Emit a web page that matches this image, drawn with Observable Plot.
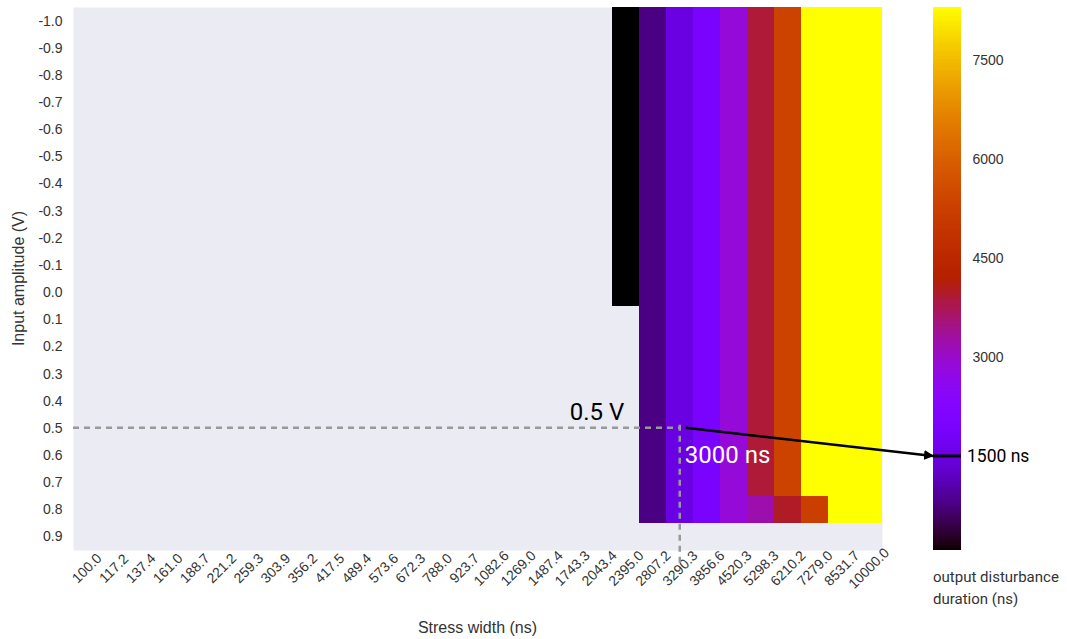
<!DOCTYPE html>
<html><head><meta charset="utf-8">
<script src="https://cdn.jsdelivr.net/npm/d3@7"></script>
<script src="https://cdn.jsdelivr.net/npm/@observablehq/plot@0.6"></script>
<style>
html,body{margin:0;padding:0;background:#fff;}
#wrap{position:relative;width:1067px;height:639px;overflow:hidden;font-family:"Liberation Sans",Arial,sans-serif;}
#wrap svg{position:absolute;}
#cap{position:absolute;left:933px;top:566px;font-family:Roboto,"Liberation Sans",sans-serif;font-size:15px;color:#333;line-height:22px;}
</style></head><body><div id="wrap"><div id="cap">output disturbance<br>duration (ns)</div></div>
<script>
// ---- data ----
const stressWidths = ["100.0","117.2","137.4","161.0","188.7","221.2","259.3","303.9","356.2","417.5","489.4","573.6","672.3","788.0","923.7","1082.6","1269.0","1487.4","1743.3","2043.4","2395.0","2807.2","3290.3","3856.6","4520.3","5298.3","6210.2","7279.0","8531.7","10000.0"];
const amplitudes = ["-1.0","-0.9","-0.8","-0.7","-0.6","-0.5","-0.4","-0.3","-0.2","-0.1","0.0","0.1","0.2","0.3","0.4","0.5","0.6","0.7","0.8","0.9"];
// output disturbance duration (ns) per amplitude row (-1.0 .. 0.9); null = no disturbance
const dur_2395_0  = [76,76,76,76,76,76,76,76,76,76,76,null,null,null,null,null,null,null,null,null];
const dur_2807_2  = [780,780,780,780,780,780,780,780,780,780,780,780,780,780,780,780,780,780,780,null];
const dur_3290_3  = [1500,1500,1500,1500,1500,1500,1500,1500,1500,1500,1500,1500,1500,1500,1500,1500,1500,1500,1500,null];
const dur_3856_6  = [1950,1950,1950,1950,1950,1950,1950,1950,1950,1950,1950,1950,1950,1950,1950,1950,1950,1950,1950,null];
const dur_4520_3  = [2870,2870,2870,2870,2870,2870,2870,2870,2870,2870,2870,2870,2870,2870,2870,2870,2870,2870,2870,null];
const dur_5298_3  = [3900,3900,3900,3900,3900,3900,3900,3900,3900,3900,3900,3900,3900,3900,3900,3900,3900,3900,3200,null];
const dur_6210_2  = [5340,5340,5340,5340,5340,5340,5340,5340,5340,5340,5340,5340,5340,5340,5340,5340,5340,5340,4000,null];
const dur_7279_0  = [8300,8300,8300,8300,8300,8300,8300,8300,8300,8300,8300,8300,8300,8300,8300,8300,8300,8300,5250,null];
const dur_8531_7  = [8300,8300,8300,8300,8300,8300,8300,8300,8300,8300,8300,8300,8300,8300,8300,8300,8300,8300,8300,null];
const dur_10000_0 = [8300,8300,8300,8300,8300,8300,8300,8300,8300,8300,8300,8300,8300,8300,8300,8300,8300,8300,8300,null];
const columns = {"2395.0":dur_2395_0,"2807.2":dur_2807_2,"3290.3":dur_3290_3,"3856.6":dur_3856_6,"4520.3":dur_4520_3,
  "5298.3":dur_5298_3,"6210.2":dur_6210_2,"7279.0":dur_7279_0,"8531.7":dur_8531_7,"10000.0":dur_10000_0};
const barTicks = [3000,4500,6000,7500];
// annotation
const markWidth = "3290.3", markAmp = "0.5", markDur = 1500;
const markAmpText = "0.5 V", markWidthText = "3000 ns", markDurText = "1500 ns";

const data = [];
for (const [w, vals] of Object.entries(columns)) vals.forEach((v, i) => { if (v != null) data.push({w, a: amplitudes[i], v}); });

// ---- layout ----
const W = 1067, H = 639, mL = 73, mR = 185, mT = 7, mB = 89;
const BAR_LEFT = 933, BAR_W = 28;
const vmin = d3.min(data, d => d.v), vmax = d3.max(data, d => d.v);
const gnuplot = t => { t = Math.max(0, Math.min(1, t));
  return d3.rgb(255*Math.sqrt(t), 255*t*t*t, 255*Math.max(0, Math.sin(2*Math.PI*t))).formatHex(); };
const colorOpt = {type: "linear", domain: [vmin, vmax], interpolate: gnuplot};
const textStyle = {fontFamily: "'Liberation Sans', Arial, sans-serif", fontSize: "14px", color: "#333", background: "transparent"};

const chart = Plot.plot({
  width: W, height: H, marginLeft: mL, marginRight: mR, marginTop: mT, marginBottom: mB,
  style: textStyle,
  x: {type: "band", domain: stressWidths, padding: 0, round: false},
  y: {type: "band", domain: amplitudes, padding: 0, round: false},
  color: colorOpt,
  marks: [
    Plot.frame({fill: "#ebebf3", stroke: null}),
    Plot.cell(data, {x: "w", y: "a", fill: "v", inset: 0, shapeRendering: "crispEdges"}),
    Plot.axisX({tickSize: 0, tickRotate: -45, textAnchor: "middle", lineAnchor: "middle", tickPadding: 18, label: null, fontSize: 14}),
    Plot.axisY({tickSize: 0, tickPadding: 11, label: null, fontSize: 14})
  ]
});
const wrap = document.getElementById("wrap");
chart.style.left = "0px"; chart.style.top = "0px";
wrap.appendChild(chart);

const bins = d3.range(300).map(i => ({y1: vmin + (vmax - vmin)*i/300, y2: vmin + (vmax - vmin)*(i + 1)/300}));
const bar = Plot.plot({
  width: 134, height: H, marginLeft: 0, marginRight: 134 - BAR_W, marginTop: mT, marginBottom: mB,
  style: textStyle,
  y: {domain: [vmin, vmax]},
  color: colorOpt,
  marks: [
    Plot.rect(bins, {y1: "y1", y2: "y2", fill: d => (d.y1 + d.y2)/2, shapeRendering: "crispEdges"}),
    Plot.axisY({anchor: "right", ticks: barTicks, tickFormat: d => String(d), tickSize: 0, tickPadding: 11, label: null, fontSize: 14})
  ]
});
bar.style.left = BAR_LEFT + "px"; bar.style.top = "0px";
wrap.appendChild(bar);

// ---- annotations ----
const sx = chart.scale("x"), sy = chart.scale("y"), sb = bar.scale("y");
const center = (s, v) => {
  const p = s.apply(v);
  const isStart = Math.abs(s.apply(s.domain[0]) - Math.min(...s.range)) < 0.5;
  return isStart ? p + s.bandwidth/2 : p;
};
const cx = center(sx, markWidth), cy = center(sy, markAmp);
const by = sb.apply(markDur);
const plotBottom = Math.max(...sy.range), plotLeft = Math.min(...sx.range), plotRight = Math.max(...sx.range);

const ov = d3.select(wrap).append("svg").attr("width", W).attr("height", H).style("left", "0px").style("top", "0px");
ov.append("defs").append("marker").attr("id", "ah").attr("viewBox", "0 0 10 10").attr("refX", 9).attr("refY", 5)
  .attr("markerWidth", 4).attr("markerHeight", 4).attr("orient", "auto")
  .append("path").attr("d", "M0,0L10,5L0,10z").attr("fill", "#000");
ov.append("line").attr("x1", plotLeft).attr("x2", cx).attr("y1", cy).attr("y2", cy)
  .attr("stroke", "#999").attr("stroke-width", 2.5).attr("stroke-dasharray", "6,5");
ov.append("line").attr("x1", cx).attr("x2", cx).attr("y1", cy - 3).attr("y2", plotBottom + 15)
  .attr("stroke", "#999").attr("stroke-width", 2.5).attr("stroke-dasharray", "6,5");
ov.append("line").attr("x1", cx + 6).attr("y1", cy).attr("x2", BAR_LEFT).attr("y2", by)
  .attr("stroke", "#000").attr("stroke-width", 2.5).attr("marker-end", "url(#ah)");
ov.append("line").attr("x1", BAR_LEFT).attr("x2", BAR_LEFT + BAR_W).attr("y1", by).attr("y2", by)
  .attr("stroke", "#000").attr("stroke-width", 3);
const annFont = "Roboto, 'Liberation Sans', sans-serif";
const titleFont = "'Liberation Sans', Arial, sans-serif";
ov.append("text").attr("x", cx - 110).attr("y", cy - 8).attr("font-size", 24).attr("fill", "#000")
  .attr("font-family", annFont).text(markAmpText);
ov.append("text").attr("x", cx + 5).attr("y", cy + 35).attr("font-size", 24).attr("fill", "#fff")
  .attr("font-family", annFont).text(markWidthText);
ov.append("text").attr("x", BAR_LEFT + BAR_W + 6).attr("y", by + 6).attr("font-size", 17.5).attr("fill", "#000")
  .attr("font-family", annFont).text(markDurText);
// axis titles
ov.append("text").attr("x", (plotLeft + plotRight)/2).attr("y", H - 6).attr("text-anchor", "middle")
  .attr("font-size", 16).attr("fill", "#333").attr("font-family", titleFont).text("Stress width (ns)");
ov.append("text").attr("transform", `translate(24,${(Math.min(...sy.range) + plotBottom)/2}) rotate(-90)`)
  .attr("text-anchor", "middle").attr("font-size", 16).attr("fill", "#333")
  .attr("font-family", titleFont).text("Input amplitude (V)");
</script>
</body></html>
